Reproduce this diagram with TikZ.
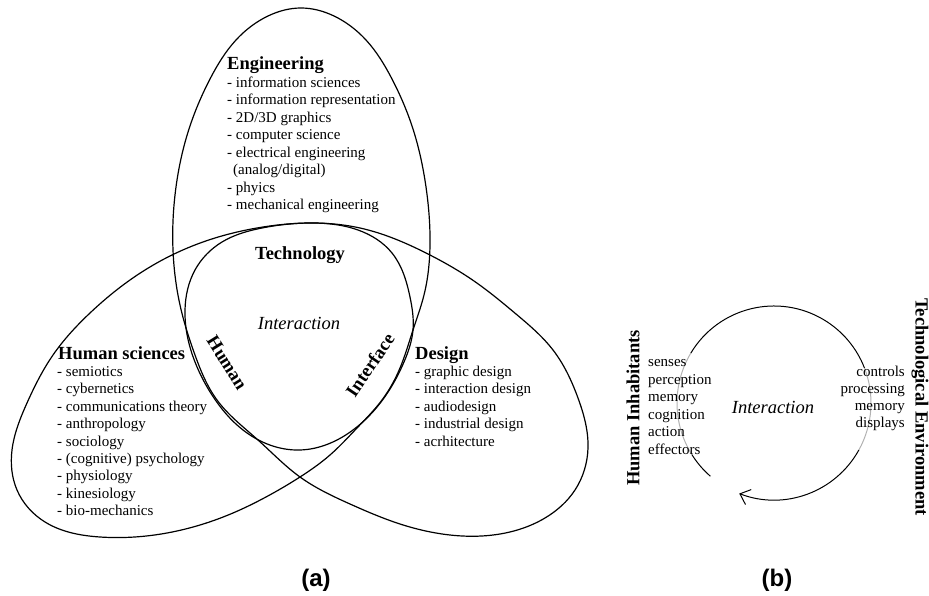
\documentclass[tikz,border=0pt]{standalone}
\usepackage{fontspec}
\setmainfont{Liberation Serif}
\newfontfamily\labelsans{Liberation Sans}
\usetikzlibrary{arrows.meta,hobby}
\tikzset{
  headtext/.style={font=\bfseries\fontsize{18.5}{22}\selectfont, inner sep=0pt},
  bigitalic/.style={font=\itshape\fontsize{18.5}{22}\selectfont, inner sep=0pt},
  listtext/.style={font=\fontsize{15}{17.5}\selectfont, inner sep=0pt, anchor=base west},
  petal/.style={line width=1.2pt, line join=round, use Hobby shortcut, closed=true},
  loopline/.style={line width=1pt},
  partlabel/.style={font=\labelsans\bfseries\fontsize{24}{28}\selectfont, inner sep=0pt, anchor=base}
}

\begin{document}
\begin{tikzpicture}[x=1pt,y=-1pt,>=latex]
\useasboundingbox (0,0) rectangle (929,596);
% (a) the three fields, drawn as one closed curve
\draw [petal] (301,8) .. (334,16) .. (366,40) .. (392,79) .. (413,129)
  .. (426,187) .. (430,245) .. (424,295) .. (413,330) .. (400,368)
  .. (382,400) .. (357,428) .. (330,455) .. (300,477) .. (266,497)
  .. (233,513) .. (167,533) .. (100,537) .. (45,522) .. (17,490)
  .. (12,450) .. (27,403) .. (53,355) .. (90,313) .. (130,280)
  .. (172,255) .. (215,238) .. (263,227) .. (310,223) .. (360,228)
  .. (428,254) .. (474,281) .. (516,314) .. (553,350) .. (578,398)
  .. (588,448) .. (575,490) .. (545,518) .. (500,534) .. (450,535)
  .. (400,524) .. (350,504) .. (300,477) .. (258,440) .. (217,400)
  .. (195,355) .. (180,305) .. (173,250) .. (176,187) .. (189,129)
  .. (210,79) .. (236,40) .. (268,16);
% interaction region
\draw [petal] (310,223) .. (358,230) .. (392,253) .. (410,297) .. (413,330)
  .. (404,362) .. (384,398) .. (353,430) .. (300,450) .. (243,430)
  .. (212,395) .. (195,362) .. (185,310) .. (195,270) .. (222,242)
  .. (262,228);

\node [headtext, anchor=base west] (eng) at (227,70) {Engineering};
\foreach \t [count=\i] in {- information sciences, - information representation,
  - 2D/3D graphics, - computer science, - electrical engineering,
  {\hspace{6pt}(analog/digital)}, - phyics, - mechanical engineering}
  \node [listtext] (eng\i) at ({227},{70+17.5*\i}) {\t};

\node [headtext, anchor=base west] (hum) at (58,359) {Human sciences};
\foreach \t [count=\i] in {- semiotics, - cybernetics, - communications theory,
  - anthropology, - sociology, - (cognitive) psychology, - physiology,
  - kinesiology, - bio-mechanics}
  \node [listtext] (hum\i) at ({57},{359+17.4*\i}) {\t};

\node [headtext, anchor=base west] (des) at (415,359) {Design};
\foreach \t [count=\i] in {- graphic design, - interaction design, - audiodesign,
  - industrial design, - acrhitecture}
  \node [listtext] (des\i) at ({415},{359+17.4*\i}) {\t};

\node [headtext, anchor=base] (tech) at (300,259) {Technology};
\node [bigitalic, anchor=base] (inter) at (299,329) {Interaction};
\node [headtext, rotate=-58] (human) at (227,363) {Human};
\node [headtext, rotate=56] (iface) at (370,365) {Interface};

% (b) interaction loop
\coordinate (loop) at (774,403);
\draw [loopline] (loop) ++(131:97) arc [start angle=131, end angle=148, radius=97];
\draw [loopline, black!30] (loop) ++(148:97) arc [start angle=148, end angle=211, radius=97];
\draw [loopline] (loop) ++(211:97) arc [start angle=211, end angle=339, radius=97];
\draw [loopline, black!30] (loop) ++(339:97) arc [start angle=339, end angle=389, radius=97];
\draw [loopline, -{Straight Barb[length=9pt,width=16pt]}] (loop) ++(389:97)
  arc [start angle=389, end angle=471, radius=97];

\node [headtext, rotate=90] (inhab) at (633,408) {Human Inhabitants};
\node [headtext, rotate=-90] (envir) at (920,407) {Technological Environment};
\node [bigitalic, anchor=base] (loopint) at (773,413) {Interaction};
\foreach \t [count=\i] in {senses, perception, memory, cognition, action, effectors}
  \node [listtext] (hi\i) at ({648},{349+17.5*\i}) {\t};
\foreach \t [count=\i] in {controls, processing, memory, displays}
  \node [listtext, anchor=base east] (te\i) at ({905},{359+17.2*\i}) {\t};

\node [partlabel] (parta) at (316,586) {(a)};
\node [partlabel] (partb) at (777,586) {(b)};
\end{tikzpicture}
\end{document}
